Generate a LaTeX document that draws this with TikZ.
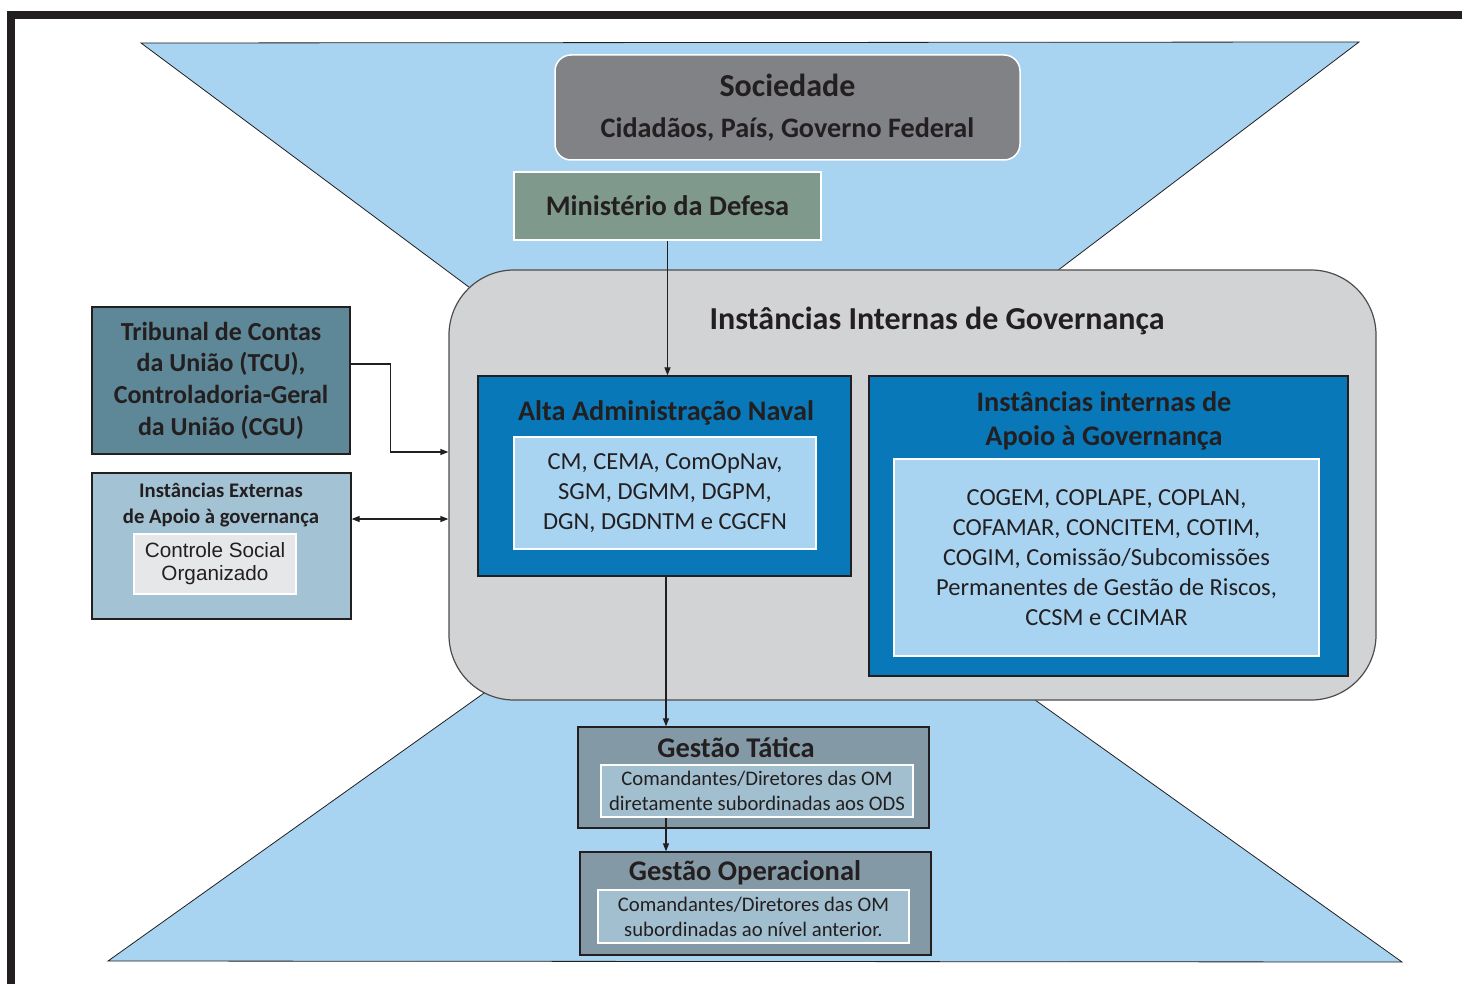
\documentclass[tikz,border=0pt]{standalone}
\usepackage{fontspec}
\setmainfont{Carlito}
\newfontfamily\arialf{Liberation Sans}
\usetikzlibrary{arrows.meta}
\definecolor{ink}{HTML}{231F20}
\definecolor{skyb}{HTML}{A8D4F2}
\definecolor{panel}{HTML}{D1D3D4}
\definecolor{socgray}{HTML}{808285}
\definecolor{mdgreen}{HTML}{7F9A8D}
\definecolor{navy}{HTML}{0878B8}
\definecolor{tcuc}{HTML}{5E8797}
\definecolor{extc}{HTML}{A3C2D4}
\definecolor{csoc}{HTML}{E6E7E8}
\definecolor{gestc}{HTML}{8499A6}
\definecolor{gestin}{HTML}{A2BFCF}
\tikzset{
  box/.style={rectangle, inner sep=0pt, align=center, text=ink},
  darkbox/.style={box, draw=ink, line width=1.3pt},
  whitebox/.style={box, draw=white, line width=1.5pt},
  lbl/.style={inner sep=0pt, align=center, text=ink},
  arr/.style={draw=ink, line width=1.2pt, -{Triangle[length=8pt,width=6pt]}},
  arrtwo/.style={draw=ink, line width=1.2pt, {Triangle[length=8pt,width=6pt]}-{Triangle[length=8pt,width=6pt]}},
  glass/.style={fill=skyb, draw=ink, line width=0.8pt, line join=miter}
}
\begin{document}
\begin{tikzpicture}[x=1pt,y=-1pt]
\useasboundingbox (0,0) rectangle (1462,984);
\fill[white] (0,0) rectangle (1462,984);
% frame
\fill[ink] (7,11) rectangle (1462,19);
\fill[ink] (7,11) rectangle (15,984);
% hourglass
\path[glass] (141,43) -- (1359,42) -- (755,500) -- cycle;
\path[glass] (108,961) -- (1402,962) -- (755,500) -- cycle;
% internal panel
\node[box, draw=ink!80, line width=1.2pt, fill=panel, rounded corners=65pt, minimum width=927pt, minimum height=430pt] (gray) at (912.5,485) {};
\node[lbl, font=\bfseries\fontsize{32}{34}\selectfont] (ttl) at (937,321) {Instâncias Internas de Governança};
% sociedade
\node[whitebox, fill=socgray, rounded corners=16pt, minimum width=465pt, minimum height=105pt, font=\bfseries\fontsize{28.2}{41}\selectfont] (soc) at (787.5,107.5)
  {{\fontsize{32}{41}\selectfont Sociedade}\\Cidadãos, País, Governo Federal};
% ministerio
\node[whitebox, fill=mdgreen, minimum width=307pt, minimum height=68pt, font=\bfseries\fontsize{28.4}{30}\selectfont] (min) at (667.5,206) {Ministério da Defesa};
% alta administracao
\node[darkbox, fill=navy, minimum width=373pt, minimum height=200pt] (alta) at (664.5,476) {};
\node[lbl, font=\bfseries\fontsize{28.3}{30}\selectfont] (altat) at (666,413) {Alta Administração Naval};
\node[whitebox, fill=skyb, minimum width=302pt, minimum height=112pt, font=\fontsize{24.5}{30}\selectfont] (altin) at (665,493)
  {CM, CEMA, ComOpNav,\\SGM, DGMM, DGPM,\\DGN, DGDNTM e CGCFN};
% apoio
\node[darkbox, fill=navy, minimum width=479pt, minimum height=300pt] (apoio) at (1108.5,526) {};
\node[lbl, font=\bfseries\fontsize{28.3}{34}\selectfont] (apoiot) at (1104,421) {Instâncias internas de\\Apoio à Governança};
\node[whitebox, fill=skyb, minimum width=425pt, minimum height=197pt, font=\fontsize{24.5}{30}\selectfont] (apoioin) at (1106.5,557.5)
  {COGEM, COPLAPE, COPLAN,\\COFAMAR, CONCITEM, COTIM,\\COGIM, Comissão/Subcomissões\\Permanentes de Gestão de Riscos,\\CCSM e CCIMAR};
% gestao tatica
\node[darkbox, fill=gestc, minimum width=351pt, minimum height=101pt] (tat) at (753.5,777.5) {};
\node[lbl, font=\bfseries\fontsize{28.5}{30}\selectfont] (tatt) at (736,748) {Gestão Tática};
\node[whitebox, fill=gestin, minimum width=312pt, minimum height=52pt, font=\fontsize{20.7}{25}\selectfont] (tatin) at (757,791)
  {Comandantes/Diretores das OM\\diretamente subordinadas aos ODS};
% gestao operacional
\node[darkbox, fill=gestc, minimum width=351pt, minimum height=103pt] (op) at (755.5,903.5) {};
\node[lbl, font=\bfseries\fontsize{28.5}{30}\selectfont] (opt) at (745,873) {Gestão Operacional};
\node[whitebox, fill=gestin, minimum width=311pt, minimum height=53pt, font=\fontsize{20.7}{25}\selectfont] (opin) at (753.5,916.5)
  {Comandantes/Diretores das OM\\subordinadas ao nível anterior.};
% TCU
\node[darkbox, fill=tcuc, minimum width=258pt, minimum height=147pt, font=\bfseries\fontsize{26}{31.7}\selectfont] (tcu) at (221,380.5)
  {Tribunal de Contas\\da União (TCU),\\Controladoria-Geral\\da União (CGU)};
% externas
\node[darkbox, fill=extc, minimum width=259pt, minimum height=146pt] (ext) at (221.5,546) {};
\node[lbl, font=\bfseries\fontsize{20.7}{26}\selectfont] (extt) at (221,505) {Instâncias Externas\\de Apoio à governança};
\node[whitebox, fill=csoc, minimum width=162pt, minimum height=60pt, font=\arialf\fontsize{20.7}{23}\selectfont] (cso) at (215,564)
  {Controle Social\\Organizado};
% connectors
\draw[arr] (min.south) -- (min.south |- alta.north);
\draw[arr] ([xshift=1.5pt]alta.south) -- ([xshift=1.5pt]alta.south |- tat.north);
\draw[arr] ([xshift=1.5pt]alta.south |- tatin.south) -- ([xshift=1.5pt]alta.south |- op.north);
\draw[arr] ([yshift=16.5pt]tcu.east) -- ++(40,0) |- ([yshift=33pt]gray.west);
\draw[arrtwo] ([yshift=27pt]ext.east) -- ([yshift=27pt]ext.east -| gray.west);
\end{tikzpicture}
\end{document}
